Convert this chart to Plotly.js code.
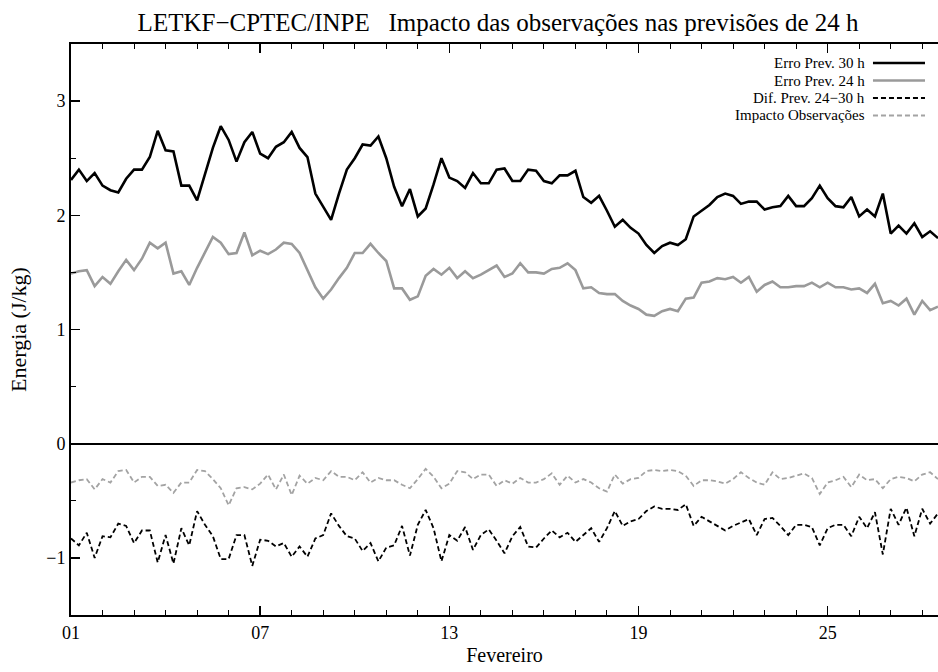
<!DOCTYPE html>
<html>
<head>
<meta charset="utf-8">
<script src="https://cdn.plot.ly/plotly-3.0.1.min.js"></script>
<style>
html,body{margin:0;padding:0;background:#fff;overflow:hidden;}
#chart{width:938px;height:672px;}
</style>
</head>
<body>
<div id="chart"></div>
<script>
// ---- data (6-hourly, starting 01 Feb 00Z) ----
const startDate = '2008-02-01 00:00';
const endDate = '2008-02-28 12:00';
const stepHours = 6;

const erro30 = [2.31,2.40,2.30,2.37,2.26,2.22,2.20,2.32,2.40,2.40,
  2.51,2.74,2.57,2.56,2.26,2.26,2.13,2.35,2.59,2.78,
  2.66,2.47,2.64,2.73,2.54,2.50,2.60,2.64,2.73,2.59,
  2.51,2.19,2.08,1.96,2.19,2.40,2.50,2.62,2.61,2.69,
  2.50,2.25,2.08,2.23,1.99,2.06,2.27,2.50,2.33,2.30,
  2.24,2.37,2.28,2.28,2.40,2.41,2.30,2.30,2.40,2.39,
  2.30,2.28,2.35,2.35,2.39,2.16,2.11,2.17,2.04,1.90,
  1.96,1.89,1.84,1.74,1.67,1.73,1.76,1.74,1.79,1.99,
  2.04,2.09,2.16,2.19,2.17,2.10,2.12,2.12,2.05,2.07,
  2.08,2.17,2.08,2.08,2.15,2.26,2.15,2.08,2.07,2.16,
  1.99,2.05,1.99,2.19,1.84,1.91,1.84,1.93,1.81,1.86,1.80];

const erro24 = [1.49,1.51,1.52,1.38,1.46,1.40,1.51,1.61,1.52,1.62,
  1.76,1.71,1.76,1.49,1.51,1.39,1.54,1.67,1.81,1.76,
  1.66,1.67,1.85,1.65,1.69,1.66,1.70,1.76,1.75,1.67,
  1.52,1.37,1.27,1.35,1.45,1.54,1.67,1.67,1.75,1.67,
  1.60,1.36,1.36,1.26,1.29,1.47,1.53,1.48,1.54,1.45,
  1.51,1.45,1.48,1.52,1.56,1.46,1.49,1.58,1.50,1.50,
  1.49,1.53,1.54,1.58,1.52,1.36,1.37,1.32,1.31,1.31,
  1.25,1.21,1.18,1.13,1.12,1.16,1.18,1.16,1.27,1.28,
  1.41,1.42,1.45,1.44,1.46,1.41,1.46,1.33,1.39,1.42,
  1.37,1.37,1.38,1.38,1.41,1.37,1.41,1.37,1.37,1.35,
  1.36,1.32,1.40,1.23,1.25,1.21,1.27,1.13,1.25,1.17,1.20];

const difPrev = [-0.83,-0.89,-0.78,-1.00,-0.81,-0.82,-0.70,-0.72,-0.87,-0.76,
  -0.76,-1.04,-0.80,-1.05,-0.74,-0.89,-0.59,-0.71,-0.81,-1.01,
  -1.01,-0.80,-0.80,-1.07,-0.84,-0.85,-0.90,-0.87,-0.99,-0.90,
  -0.99,-0.83,-0.80,-0.61,-0.72,-0.81,-0.83,-0.94,-0.87,-1.03,
  -0.91,-0.89,-0.72,-0.98,-0.71,-0.58,-0.74,-1.03,-0.80,-0.85,
  -0.73,-0.93,-0.80,-0.75,-0.85,-0.96,-0.81,-0.73,-0.90,-0.91,
  -0.83,-0.76,-0.82,-0.78,-0.86,-0.80,-0.74,-0.86,-0.74,-0.59,
  -0.72,-0.68,-0.66,-0.59,-0.55,-0.57,-0.57,-0.58,-0.53,-0.72,
  -0.64,-0.68,-0.72,-0.76,-0.72,-0.69,-0.66,-0.80,-0.66,-0.65,
  -0.72,-0.80,-0.71,-0.71,-0.73,-0.89,-0.74,-0.71,-0.71,-0.81,
  -0.64,-0.74,-0.60,-0.97,-0.57,-0.71,-0.56,-0.81,-0.57,-0.70,-0.61];

const impacto = [-0.34,-0.32,-0.31,-0.40,-0.31,-0.34,-0.24,-0.23,-0.34,-0.29,
  -0.29,-0.37,-0.36,-0.43,-0.34,-0.34,-0.23,-0.24,-0.31,-0.39,
  -0.54,-0.39,-0.38,-0.40,-0.35,-0.27,-0.40,-0.27,-0.45,-0.28,
  -0.35,-0.30,-0.32,-0.24,-0.29,-0.29,-0.32,-0.25,-0.34,-0.30,
  -0.32,-0.32,-0.36,-0.39,-0.31,-0.22,-0.29,-0.39,-0.35,-0.24,
  -0.25,-0.31,-0.27,-0.27,-0.37,-0.32,-0.35,-0.30,-0.34,-0.34,
  -0.31,-0.26,-0.36,-0.28,-0.34,-0.31,-0.34,-0.39,-0.42,-0.27,
  -0.35,-0.31,-0.30,-0.24,-0.23,-0.24,-0.23,-0.24,-0.28,-0.37,
  -0.32,-0.32,-0.33,-0.35,-0.31,-0.25,-0.30,-0.34,-0.36,-0.25,
  -0.31,-0.30,-0.28,-0.26,-0.30,-0.44,-0.34,-0.32,-0.29,-0.38,
  -0.27,-0.32,-0.31,-0.39,-0.31,-0.29,-0.30,-0.33,-0.27,-0.25,-0.31];

const seriesNames = ['Erro Prev. 30 h','Erro Prev. 24 h','Dif. Prev. 24\u221230 h','Impacto Observa\u00e7\u00f5es'];
const xTickDates = ['2008-02-01','2008-02-07','2008-02-13','2008-02-19','2008-02-25'];
const xTickLabels = ['01','07','13','19','25'];
const yTickVals = [-1,0,1,2,3];
const titleText = 'LETKF\u2212CPTEC/INPE   Impacto das observa\u00e7\u00f5es nas previs\u00f5es de 24 h';
const xTitle = 'Fevereiro';
const yTitle = 'Energia (J/kg)';

// ---- time stamps ----
function pad(n){return (n<10?'0':'')+n;}
const t0 = Date.UTC(2008,1,1,0,0);
const times = erro30.map((_,i)=>{
  const d = new Date(t0 + i*stepHours*3600000);
  return d.getUTCFullYear()+'-'+pad(d.getUTCMonth()+1)+'-'+pad(d.getUTCDate())+' '+pad(d.getUTCHours())+':00';
});

const styles = [
  {color:'#000000', width:2.6, dash:'solid'},
  {color:'#9a9a9a', width:2.6, dash:'solid'},
  {color:'#000000', width:1.8, dash:'5px,3px'},
  {color:'#a3a3a3', width:1.8, dash:'5px,3px'}
];
const values = [erro30, erro24, difPrev, impacto];

const traces = values.map((v,k)=>({
  type:'scatter', mode:'lines', x:times, y:v, name:seriesNames[k],
  line:{color:styles[k].color, width:styles[k].width, dash:styles[k].dash},
  hoverinfo:'x+y+name'
}));

// ---- gnuplot-like legend (text left, sample right) ----
const legY = [0.9667, 0.9360, 0.9054, 0.8748];
const annotations = seriesNames.map((n,k)=>({
  xref:'paper', yref:'paper', x:0.917, y:legY[k], xanchor:'right', yanchor:'middle',
  text:n, showarrow:false, font:{size:15, color:'#000'}, borderpad:0
}));
const shapes = seriesNames.map((n,k)=>({
  type:'line', xref:'paper', yref:'paper', x0:0.925, x1:0.985, y0:legY[k], y1:legY[k],
  line:{color:styles[k].color, width:styles[k].width, dash:styles[k].dash}
}));

const layout = {
  width:938, height:672,
  margin:{l:71, r:0, t:44, b:57, pad:0},
  paper_bgcolor:'#ffffff', plot_bgcolor:'#ffffff',
  font:{family:'"Liberation Serif", "Times New Roman", serif', color:'#000'},
  showlegend:false,
  title:{text:titleText, font:{size:25, color:'#000'}, xref:'container', x:0.531, xanchor:'center',
         yref:'container', y:1-22/672, yanchor:'middle'},
  xaxis:{
    type:'date', range:[startDate, endDate],
    tickvals:xTickDates, ticktext:xTickLabels,
    ticks:'inside', ticklen:9, tickwidth:1.5, tickcolor:'#000',
    showline:true, linecolor:'#000', linewidth:2, mirror:'allticks',
    showgrid:false, zeroline:false,
    tickfont:{size:18},
    minor:{dtick:86400000, tick0:startDate, ticks:'inside', ticklen:5, tickwidth:1, tickcolor:'#000', showgrid:false},
    title:{text:xTitle, font:{size:20}, standoff:6}
  },
  yaxis:{
    range:[-1.5,3.5], tickvals:yTickVals,
    ticks:'inside', ticklen:9, tickwidth:1.5, tickcolor:'#000',
    showline:true, linecolor:'#000', linewidth:2, mirror:false,
    showgrid:false, zeroline:true, zerolinecolor:'#000', zerolinewidth:2,
    tickfont:{size:18},
    minor:{dtick:0.5, ticks:'inside', ticklen:5, tickwidth:1, tickcolor:'#000', showgrid:false},
    title:{text:yTitle, font:{size:22}, standoff:14}
  },
  annotations:annotations,
  shapes:shapes
};

Plotly.newPlot('chart', traces, layout, {displayModeBar:false, staticPlot:true});
</script>
</body>
</html>
